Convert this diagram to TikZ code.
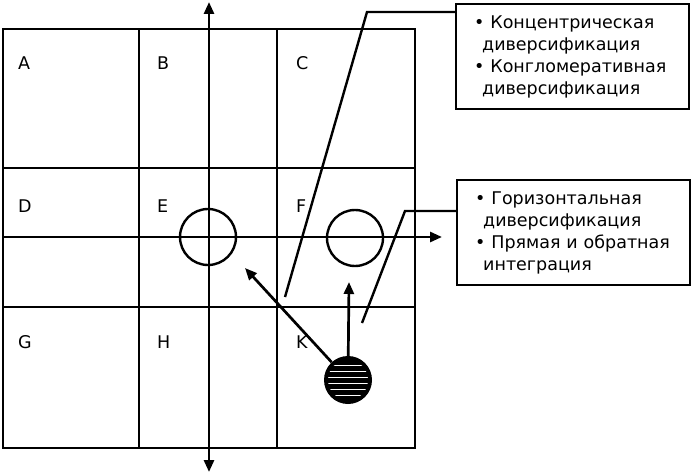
\documentclass[tikz,border=0pt]{standalone}
\usepackage{fontspec}
\setmainfont{DejaVu Sans}
\usetikzlibrary{arrows.meta, positioning}
\tikzstyle{grid} = [line width=2.9pt]
\tikzstyle{axis} = [line width=2.7pt, {Triangle[length=12pt,width=10pt]}-{Triangle[length=12pt,width=10pt]}]
\tikzstyle{arrow} = [line width=2.7pt, -{Triangle[length=12pt,width=10pt]}]
\tikzstyle{link} = [line width=2.4pt]
\tikzstyle{info} = [rectangle, draw=black, line width=2.4pt, minimum width=233pt, minimum height=105pt, text width=197pt, inner xsep=18pt, align=left, font=\fontsize{17.5}{22}\selectfont, anchor=north west]
\tikzstyle{cell} = [font=\fontsize{17.5}{20}\selectfont, anchor=base west, inner sep=0pt]
\tikzstyle{ring} = [circle, draw=black, line width=2.4pt, minimum size=56pt, inner sep=0pt]

\begin{document}
\begin{tikzpicture}[x=1pt, y=-1pt]
        \useasboundingbox (0,0) rectangle (696,476);

        % matrix of cells
        \draw [grid] (3,29) rectangle (415,448);
        \draw [grid] (139,29) -- (139,448);
        \draw [grid] (277,29) -- (277,448);
        \draw [grid] (3,168) -- (415,168);
        \draw [grid] (3,307) -- (415,307);
        \foreach \t/\x/\y in {A/18/70, B/157/70, C/296/70, D/18/212, E/157/212, F/296/212, G/18/348, H/157/348, K/296/348}
            \node (cell\t) [cell] at (\x,\y) {\t};

        % axes
        \coordinate (axTop) at (209,2);
        \coordinate (axBot) at (209,472);
        \coordinate (axLeft) at (3,237);
        \coordinate (axRight) at (442,237);
        \draw [axis] (axBot) -- (axTop);
        \draw [arrow] (axLeft) -- (axRight);

        % positions
        \node (ringE) [ring] at (208,237) {};
        \node (ringF) [ring] at (355,238) {};
        \node (core) [circle, fill=black, minimum size=48pt, inner sep=0pt] at (348,380) {};
        \begin{scope}
            \clip (348,380) circle (20pt);
            \foreach \dy in {-15,-9,-3,3,9,15}
                \draw [white, line width=0.9pt] (320,380+\dy) -- (376,380+\dy);
        \end{scope}
        \coordinate (tipUp) at (349,282);
        \coordinate (tipDiag) at (245,268);
        \draw [arrow] (core) -- (tipUp);
        \draw [arrow] (core) -- (tipDiag);

        % strategy boxes
        \node (conc) [info] at (455,3) {\textbullet\ Концентрическая\\\hspace*{8pt}диверсификация\\\textbullet\ Конгломеративная\\\hspace*{8pt}диверсификация};
        \node (horiz) [info] at (456,179) {\textbullet\ Горизонтальная\\\hspace*{8pt}диверсификация\\\textbullet\ Прямая и обратная\\\hspace*{8pt}интеграция};

        \coordinate (k1) at (367,12);
        \coordinate (k1end) at (285,297);
        \coordinate (k2) at (405,211);
        \coordinate (k2end) at (362,323);
        \draw [link] (k1 -| conc.west) -- (k1) -- (k1end);
        \draw [link] (k2 -| horiz.west) -- (k2) -- (k2end);

\end{tikzpicture}
\end{document}
